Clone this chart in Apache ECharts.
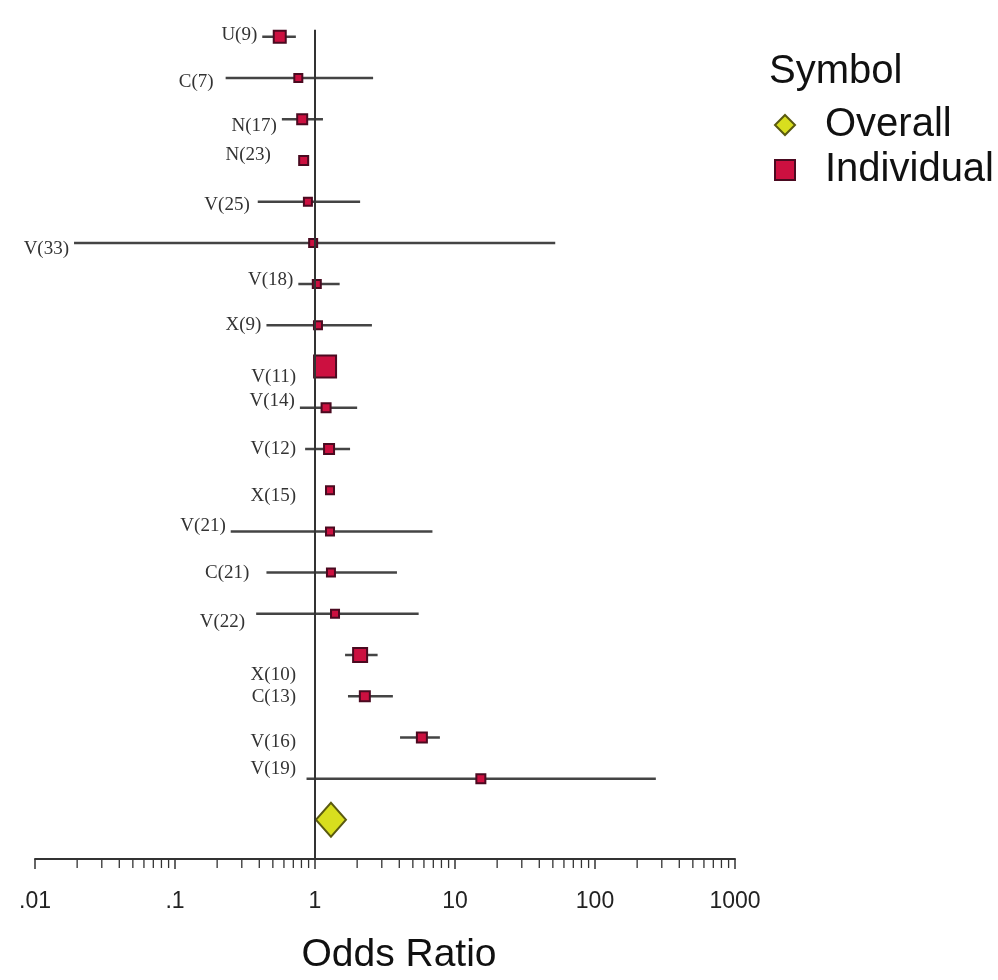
<!DOCTYPE html>
<html>
<head>
<meta charset="utf-8">
<script src="https://cdn.jsdelivr.net/npm/echarts@6/dist/echarts.min.js"></script>
<style>
html,body{margin:0;padding:0;background:#fff;}
#chart{width:998px;height:980px;}
</style>
</head>
<body>
<div id="chart"></div>
<script>
// ---- data ----
const studyLabels = ['U(9)','C(7)','N(17)','N(23)','V(25)','V(33)','V(18)','X(9)','V(11)','V(14)','V(12)','X(15)','V(21)','C(21)','V(22)','X(10)','C(13)','V(16)','V(19)'];
const oddsRatio   = [0.56, 0.76, 0.81, 0.83, 0.89, 0.97, 1.03, 1.05, 1.18, 1.20, 1.26, 1.28, 1.28, 1.30, 1.39, 2.10, 2.27, 5.80, 15.3];
const ciLower     = [0.42, 0.23, 0.58, 0.78, 0.39, 0.019, 0.76, 0.45, 1.10, 0.78, 0.85, 1.20, 0.25, 0.45, 0.38, 1.64, 1.72, 4.05, 0.87];
const ciUpper     = [0.73, 2.60, 1.14, 0.88, 2.10, 52,   1.50, 2.55, 1.26, 2.00, 1.78, 1.36, 6.90, 3.85, 5.50, 2.80, 3.60, 7.80, 272];
const studyWeight = [12, 8, 10, 9, 8, 8, 8, 8, 22, 9, 10, 8, 8, 8, 8, 14, 10, 10, 9];
const overallOR   = 1.30;
const tickLabels  = ['.01', '.1', '1', '10', '100', '1000'];

// label nudges (layout only, pixels): [dx, dy]
const labelNudge = [[0,-2],[-7,4],[0,7],[-24,-5],[-3,3],[0,6],[0,-4],[0,0],[0,10],[0,-7],[0,0],[0,6],[0,-5],[-12,0],[-6,8],[0,20],[0,1],[0,5],[0,-10]];

const nRows = studyLabels.length;
const overallRow = nRows;

const ciData = studyLabels.map((l, i) => [ciLower[i], ciUpper[i], i]);
const pointData = oddsRatio.map((v, i) => [v, i, studyWeight[i]]);

// minor tick positions (2..9 in each decade)
const minorTicks = [];
for (let d = -2; d < 3; d++) {
  for (let k = 2; k <= 9; k++) minorTicks.push([k * Math.pow(10, d)]);
}

const chart = echarts.init(document.getElementById('chart'));
const yMax = 19.95;
const sans = 'Liberation Sans, Arial, sans-serif';

chart.setOption({
  backgroundColor: '#ffffff',
  animation: false,
  title: {
    text: 'Symbol',
    left: 764, top: 47,
    textStyle: {fontFamily: sans, fontSize: 40, fontWeight: 'normal', color: '#111'}
  },
  legend: {
    orient: 'vertical',
    left: 769, top: 100,
    itemWidth: 20, itemHeight: 20,
    itemGap: 5,
    selectedMode: false,
    textStyle: {fontFamily: sans, fontSize: 40, color: '#111', padding: [0,0,0,25]},
    data: [{name: 'Overall', icon: 'diamond'}, {name: 'Individual', icon: 'rect'}]
  },
  grid: {left: 35, right: 263, top: 16.25, bottom: 115},
  xAxis: {
    type: 'log', logBase: 10, min: 0.01, max: 1000,
    splitNumber: 5,
    position: 'bottom',
    axisLine: {show: true, onZero: false, lineStyle: {color: '#333', width: 2}},
    axisTick: {show: true, length: 10, lineStyle: {color: '#333', width: 1.5}},
    splitLine: {show: false},
    axisLabel: {
      margin: 31,
      fontFamily: sans, fontSize: 23, color: '#222',
      formatter: v => tickLabels[Math.round(Math.log10(v)) + 2]
    },
    name: 'Odds Ratio',
    nameLocation: 'middle',
    nameGap: 77,
    nameTextStyle: {fontFamily: sans, fontSize: 39, color: '#111', padding: [0, 0, 0, 28]}
  },
  yAxis: {type: 'value', inverse: true, min: -0.5, max: yMax, show: false},
  series: [
    {
      type: 'custom', name: 'minorTicks', silent: true,
      data: minorTicks,
      encode: {x: 0},
      renderItem: (params, api) => {
        const x = api.coord([api.value(0), yMax])[0];
        const cs = params.coordSys;
        const yb = cs.y + cs.height;
        return {type: 'line', shape: {x1: x, y1: yb, x2: x, y2: yb + 9}, style: {stroke: '#333', lineWidth: 1.3}};
      },
      z: 1
    },
    {
      type: 'custom', name: 'ci', silent: true,
      data: ciData,
      encode: {x: [0, 1], y: 2},
      renderItem: (params, api) => {
        const i = params.dataIndex;
        const row = api.value(2);
        const p1 = api.coord([api.value(0), row]);
        const p2 = api.coord([api.value(1), row]);
        const ref = api.coord([1, row]);
        const lx = Math.min(p1[0] - 5, ref[0] - 19) + labelNudge[i][0];
        const ly = p1[1] + labelNudge[i][1];
        return {
          type: 'group',
          children: [
            {type: 'line', shape: {x1: p1[0], y1: p1[1], x2: p2[0], y2: p2[1]}, style: {stroke: '#444', lineWidth: 2.5}},
            {type: 'text', x: lx, y: ly, style: {text: studyLabels[i], fill: '#333', font: '19px "Liberation Serif", "DejaVu Serif", serif', align: 'right', verticalAlign: 'middle'}}
          ]
        };
      },
      markLine: {
        silent: true, symbol: 'none', label: {show: false},
        lineStyle: {color: '#333', width: 2, type: 'solid'},
        data: [[{coord: [1, -0.17]}, {coord: [1, yMax]}]]
      },
      z: 2
    },
    {
      type: 'scatter', name: 'Individual',
      data: pointData,
      symbol: 'rect',
      symbolSize: v => v[2],
      itemStyle: {color: '#cc1040', borderColor: '#4a0a20', borderWidth: 2, opacity: 1},
      z: 3
    },
    {
      type: 'scatter', name: 'Overall',
      data: [[overallOR, overallRow]],
      symbol: 'diamond',
      symbolSize: [30, 34],
      itemStyle: {color: '#d8de1e', borderColor: '#5a5a10', borderWidth: 2, opacity: 1},
      z: 3
    }
  ]
});
</script>
</body>
</html>
